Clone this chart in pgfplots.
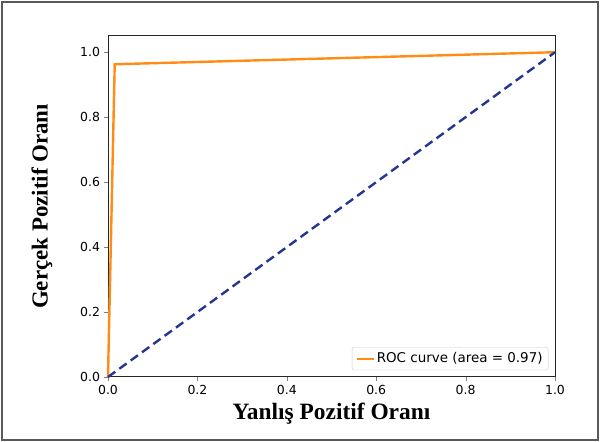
\documentclass[border=0pt]{standalone}
\usepackage{fontspec}
\setmainfont{Liberation Serif}
\newfontfamily\dejavu{DejaVu Sans}
\usepackage{pgfplots}
\pgfplotsset{compat=1.18}
\definecolor{rocorange}{RGB}{255,140,20}
\definecolor{rocnavy}{RGB}{35,55,145}
\begin{document}
\begin{tikzpicture}[x=1bp,y=1bp]
\useasboundingbox (0,0) rectangle (600,442);
\draw[gray!70!black, line width=1.4bp] (2,2) rectangle (598,440);
\begin{axis}[
  at={(108bp,65bp)}, anchor=south west,
  scale only axis, width=447bp, height=341bp,
  xmin=0, xmax=1, ymin=0, ymax=1.05,
  xtick={0,0.2,0.4,0.6,0.8,1.0}, ytick={0,0.2,0.4,0.6,0.8,1.0},
  xticklabel style={/pgf/number format/fixed,/pgf/number format/fixed zerofill,/pgf/number format/precision=1},
  yticklabel style={/pgf/number format/fixed,/pgf/number format/fixed zerofill,/pgf/number format/precision=1},
  /pgf/number format/assume math mode=true,
  tick label style={font=\dejavu\fontsize{12.5}{14}\selectfont},
  tick align=outside, tick pos=left,
  major tick length=4.5bp,
  axis line style={line width=1bp, black!85},
  xlabel={\bfseries\fontsize{23.5}{26}\selectfont Yanlış Pozitif Oranı},
  ylabel={\bfseries\fontsize{23}{26}\selectfont Gerçek Pozitif Oranı},
  xlabel style={yshift=-2bp},
  ylabel style={yshift=21bp},
  legend style={font=\dejavu\fontsize{13.5}{16}\selectfont, draw=black!20, rounded corners=2bp, at={(0.985,0.02)}, anchor=south east, inner sep=3.5bp},
  legend image post style={line width=2.2bp},
  legend cell align=left,
  clip=false,
]
\addplot[rocorange, line width=2.4bp] coordinates {(0,0) (0.015,0.963) (1,1)};
\addlegendentry{ROC curve (area = 0.97)}
\addplot[rocnavy, line width=2.4bp, dash pattern=on 9bp off 5bp, forget plot] coordinates {(0,0) (1,1)};
\end{axis}
\end{tikzpicture}
\end{document}
